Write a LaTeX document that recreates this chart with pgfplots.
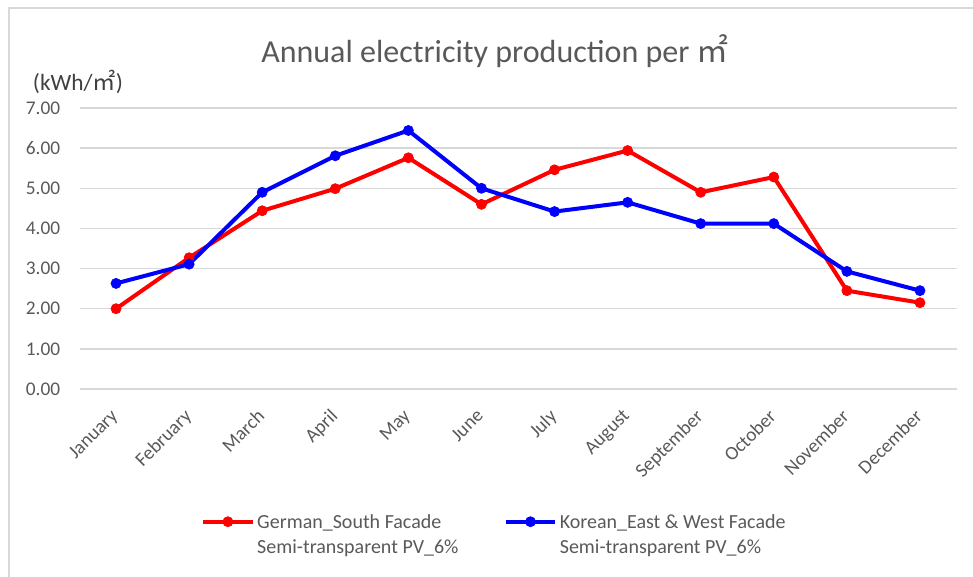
\documentclass[border=0pt]{standalone}
\usepackage{pgfplots}
\pgfplotsset{compat=1.18}
\usepackage{fontspec}
\setmainfont{Carlito}
\newfontfamily\cjk{Noto Sans CJK KR}
\definecolor{txtgray}{HTML}{595959}
\definecolor{labgray}{HTML}{404040}
\definecolor{gridgray}{HTML}{D9D9D9}
\definecolor{myred}{HTML}{FF0000}
\definecolor{myblue}{HTML}{0000FF}
\begin{document}
\begin{tikzpicture}
\useasboundingbox (0,0) rectangle (729.75pt,-432.75pt);
\draw[gridgray, line width=1.1pt] (6.75pt,-432.75pt) -- (6.75pt,-6pt) -- (729.75pt,-6pt);
\node[anchor=base, text=txtgray, font=\fontsize{24}{28}\selectfont] at (371.25pt,-47.25pt) {Annual electricity production per {\cjk ㎡}};
\node[text=labgray, font=\fontsize{17.5}{20}\selectfont] at (58.5pt,-61.5pt) {(kWh/{\cjk ㎡})};
\begin{axis}[
  at={(59.625pt,-291.75pt)}, anchor=south west,
  scale only axis, width=657.75pt, height=210.75pt,
  xmin=-0.5, xmax=11.5, ymin=0, ymax=7,
  axis line style={draw=none},
  major tick length=0pt,
  ytick={0,1,...,7},
  ymajorgrids, grid style={gridgray, line width=1.1pt},
  xtick={0,...,11},
  xticklabels={January,February,March,April,May,June,July,August,September,October,November,December},
  /pgf/number format/assume math mode=true,
  yticklabel={\pgfmathprintnumber[fixed,fixed zerofill,precision=2]{\tick}},
  ticklabel style={text=txtgray, font=\fontsize{14.5}{17}\selectfont},
  yticklabel style={xshift=-11pt},
  xticklabel style={anchor=north east, xshift=-4.6pt, yshift=-9.4pt, rotate=45},
  legend columns=2,
  legend cell align=left,
  legend style={at={(0.1385,-0.435)}, anchor=north west, draw=none, fill=none, inner sep=0pt,
    font=\fontsize{15}{18.75}\selectfont, text=txtgray,
    cells={align=left, anchor=base west}, nodes={inner xsep=2pt},
    /tikz/every even column/.append style={column sep=32pt}},
  legend image code/.code={\draw[mark repeat=2,mark phase=2,#1, yshift=23.5pt] plot coordinates {(0pt,0pt) (18.5pt,0pt) (37pt,0pt)};},
]
\addplot[myred, line width=3pt, mark=*, mark size=3.8pt, mark options={solid, line width=0.5pt}] coordinates {
(0,2.00) (1,3.27) (2,4.44) (3,4.99) (4,5.76) (5,4.60) (6,5.46) (7,5.94) (8,4.90) (9,5.28) (10,2.45) (11,2.15)};
\addlegendentry{German\_South Facade\\Semi-transparent PV\_6\%}
\addplot[myblue, line width=3pt, mark=*, mark size=3.8pt, mark options={solid, line width=0.5pt}] coordinates {
(0,2.63) (1,3.11) (2,4.90) (3,5.81) (4,6.44) (5,5.00) (6,4.42) (7,4.65) (8,4.12) (9,4.12) (10,2.93) (11,2.45)};
\addlegendentry{Korean\_East \& West Facade\\Semi-transparent PV\_6\%}
\end{axis}
\end{tikzpicture}
\end{document}
